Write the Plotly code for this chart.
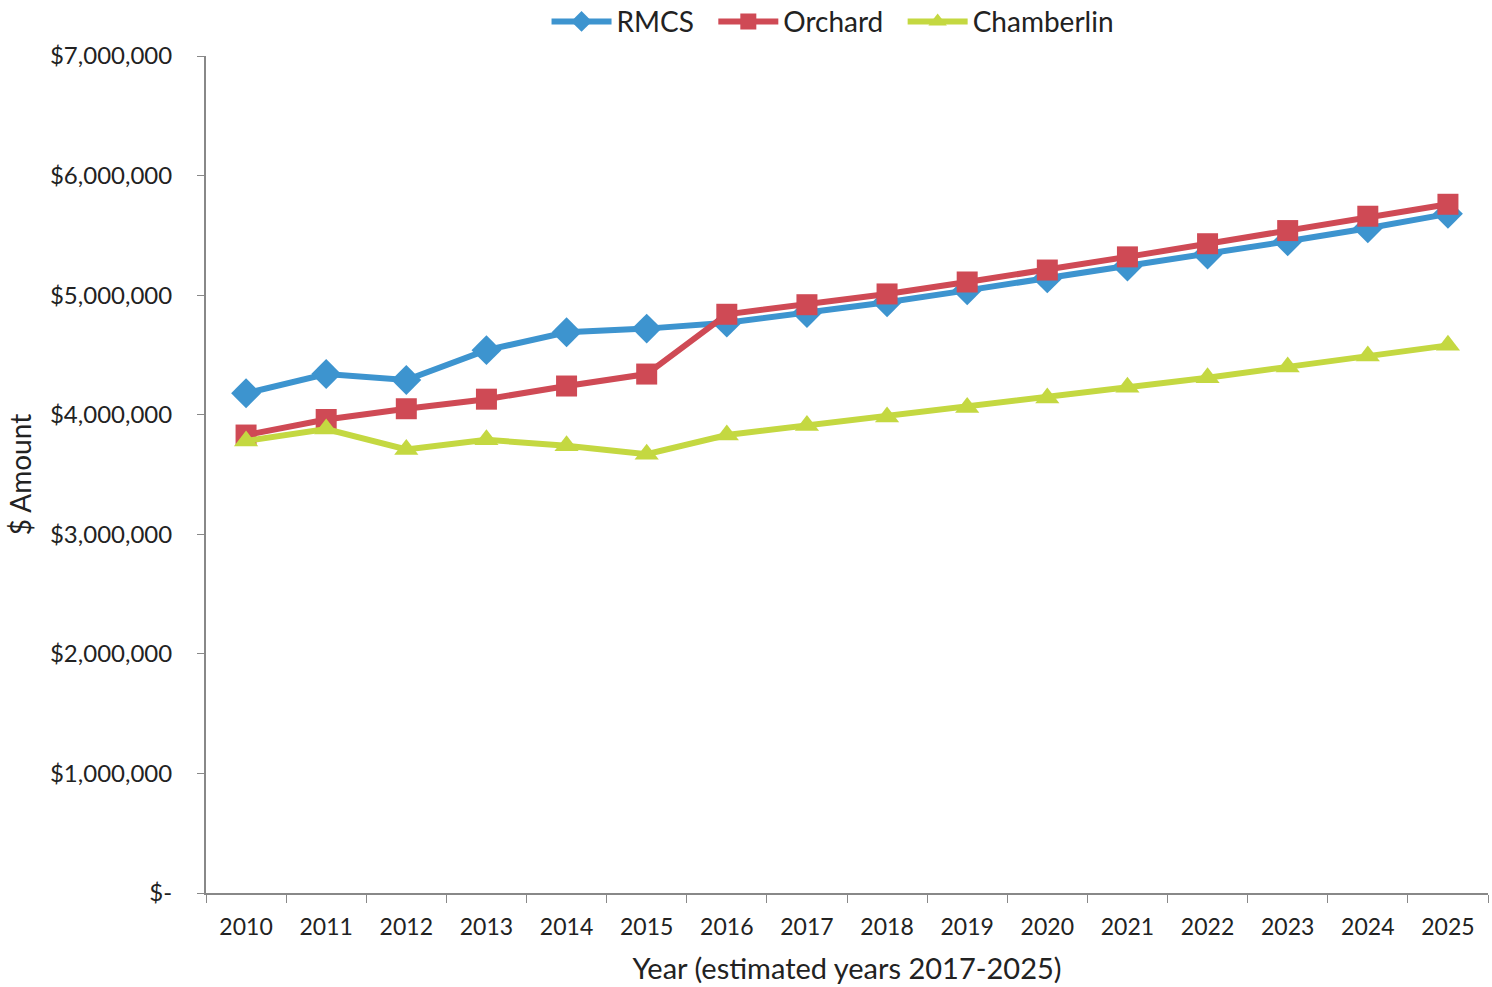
import plotly.graph_objects as go

years = [str(y) for y in range(2010, 2026)]
rmcs = [4.18, 4.34, 4.29, 4.54, 4.69, 4.72, 4.77, 4.85, 4.94, 5.04, 5.14, 5.24, 5.34, 5.45, 5.56, 5.68]
orchard = [3.83, 3.96, 4.05, 4.13, 4.24, 4.34, 4.84, 4.92, 5.01, 5.11, 5.21, 5.32, 5.43, 5.54, 5.66, 5.76]
chamberlin = [3.78, 3.88, 3.71, 3.79, 3.74, 3.67, 3.83, 3.91, 3.98, 4.06, 4.14, 4.23, 4.31, 4.40, 4.49, 4.58]
rmcs = [v * 1e6 for v in rmcs]
orchard = [v * 1e6 for v in orchard]
chamberlin = [v * 1e6 for v in chamberlin]

y_ticks = [0, 1e6, 2e6, 3e6, 4e6, 5e6, 6e6, 7e6]
y_labels = ["$-", "$1,000,000", "$2,000,000", "$3,000,000", "$4,000,000",
            "$5,000,000", "$6,000,000", "$7,000,000"]

FONT = "Lato, Open Sans, sans-serif"
fig = go.Figure()
fig.add_trace(go.Scatter(x=years, y=rmcs, name="RMCS  ", mode="lines+markers",
                         line=dict(color="#3D94CF", width=6),
                         marker=dict(symbol="diamond", size=23, color="#3D94CF")))
fig.add_trace(go.Scatter(x=years, y=orchard, name="Orchard  ", mode="lines+markers",
                         line=dict(color="#CF4A55", width=6),
                         marker=dict(symbol="square", size=21, color="#CF4A55")))
fig.add_trace(go.Scatter(x=years, y=chamberlin, name="Chamberlin", mode="lines+markers",
                         line=dict(color="#C4D841", width=6),
                         marker=dict(symbol="triangle-up", size=21, color="#C4D841")))

fig.update_layout(
    width=1492, height=987,
    paper_bgcolor="white", plot_bgcolor="white",
    margin=dict(l=206, r=4, t=56, b=94, autoexpand=False),
    font=dict(family=FONT, size=23, color="#222222"),
    showlegend=True,
    legend=dict(orientation="h", x=0.558, xanchor="center", xref="container",
                y=1.041, yanchor="middle", yref="paper",
                font=dict(size=28, color="#222222"), itemwidth=60,
                traceorder="normal", bgcolor="rgba(0,0,0,0)"),
    xaxis=dict(type="category", tickson="boundaries", ticks="outside", ticklen=8,
               range=[-0.5, 15.5],
               tickcolor="#888888", showline=True, linecolor="#888888", linewidth=2,
               showgrid=False, tickfont=dict(size=23), ticklabelstandoff=12,
               title=dict(text="Year (estimated years 2017-2025)", font=dict(size=29), standoff=20)),
    yaxis=dict(range=[0, 7e6], tickvals=y_ticks, ticktext=y_labels, ticks="outside",
               ticklen=7, tickcolor="#888888", showline=True, linecolor="#888888",
               linewidth=2, showgrid=False, zeroline=False, tickfont=dict(size=24),
               ticklabelstandoff=20,
               title=dict(text="$ Amount", font=dict(size=28), standoff=10)),
)
fig.write_html("out.html", config={"displayModeBar": False},
               post_script="document.body.style.margin='0';document.body.style.overflow='hidden';")
